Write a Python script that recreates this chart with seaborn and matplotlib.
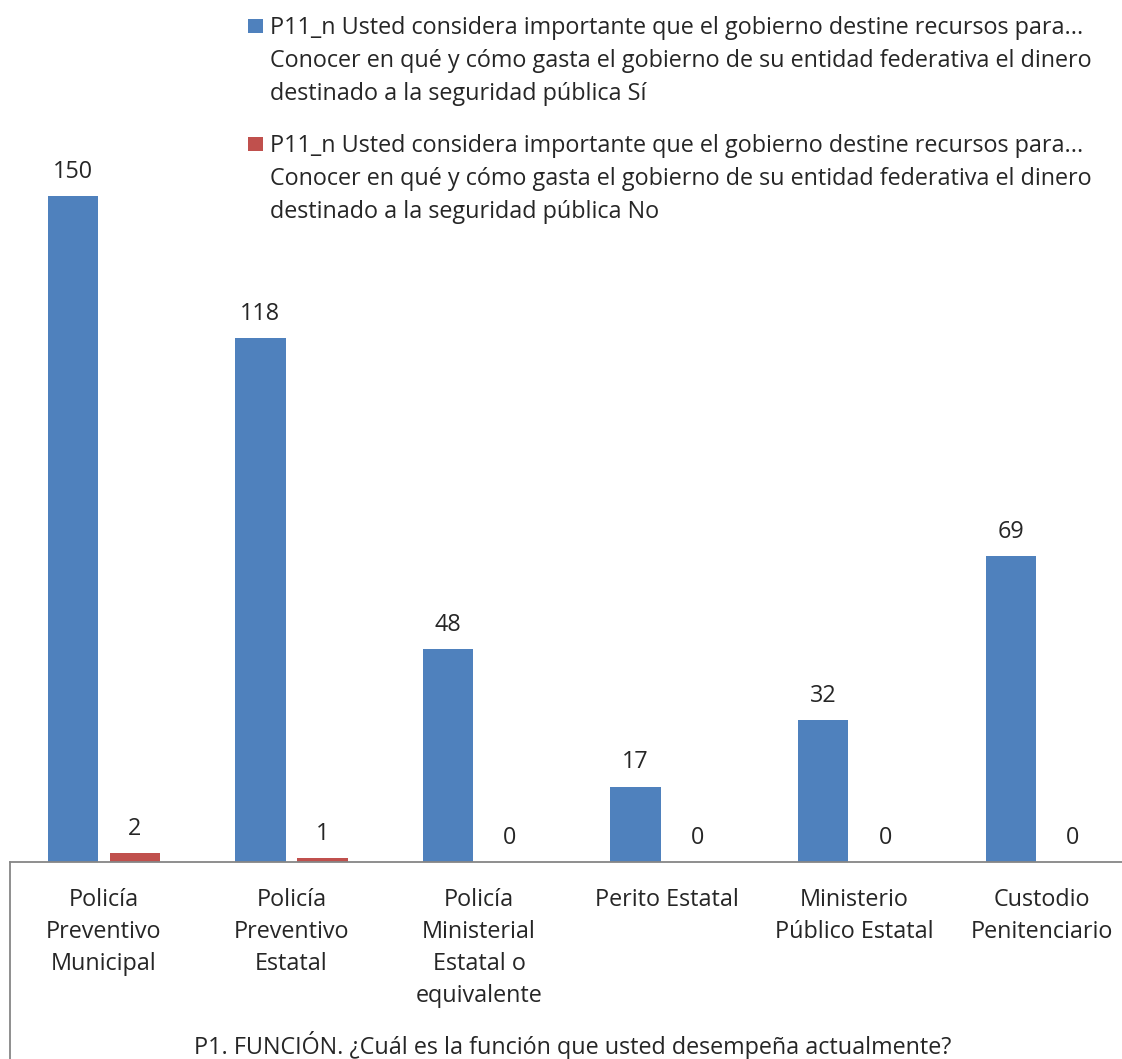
import matplotlib
matplotlib.use("Agg")
import matplotlib.pyplot as plt
from matplotlib.lines import Line2D
from matplotlib.patches import Rectangle
import seaborn as sns
import pandas as pd

sns.set_style("white")
plt.rcParams['font.family'] = ['Open Sans', 'DejaVu Sans']

categorias = [
    "Policía\nPreventivo\nMunicipal",
    "Policía\nPreventivo\nEstatal",
    "Policía\nMinisterial\nEstatal o\nequivalente",
    "Perito Estatal",
    "Ministerio\nPúblico Estatal",
    "Custodio\nPenitenciario",
]
serie_si = [150, 118, 48, 17, 32, 69]
serie_no = [2, 1, 0, 0, 0, 0]
nombres_series = [
    "P11_n Usted considera importante que el gobierno destine recursos para...\n"
    "Conocer en qué y cómo gasta el gobierno de su entidad federativa el dinero\n"
    "destinado a la seguridad pública Sí",
    "P11_n Usted considera importante que el gobierno destine recursos para...\n"
    "Conocer en qué y cómo gasta el gobierno de su entidad federativa el dinero\n"
    "destinado a la seguridad pública No",
]
titulo_x = "P1. FUNCIÓN. ¿Cuál es la función que usted desempeña actualmente?"
colores = ["#4F81BD", "#C0504D"]
gris = "#868686"

df = pd.DataFrame({
    "categoria": categorias * 2,
    "serie": [nombres_series[0]] * len(categorias) + [nombres_series[1]] * len(categorias),
    "valor": serie_si + serie_no,
})

W, H = 1122, 1059
fig = plt.figure(figsize=(W / 100, H / 100), dpi=100)
ax_left, ax_right = 10, 1135.6
ax_bottom, ax_top = 862, 151.6
ax = fig.add_axes([ax_left / W, (H - ax_bottom) / H, (ax_right - ax_left) / W, (ax_bottom - ax_top) / H])

sns.barplot(data=df, x="categoria", y="valor", hue="serie", order=categorias,
            hue_order=nombres_series, palette=colores, width=0.661, gap=0.19,
            linewidth=0, saturation=1, legend=False, ax=ax)

fs = 16.8
ax.set_xlim(-0.5, 5.5)
ax.set_ylim(0, 160)
ax.set_yticks([])
ax.set_ylabel("")
ax.set_xlabel("")
for s in ["top", "right", "left"]:
    ax.spines[s].set_visible(False)
ax.spines["bottom"].set_color(gris)
ax.spines["bottom"].set_linewidth(1.3)
ax.tick_params(axis="x", length=0, pad=19, labelsize=fs)
for lab in ax.get_xticklabels():
    lab.set_linespacing(1.43)

for cont in ax.containers:
    for rect in cont:
        h = rect.get_height()
        ax.annotate(f"{h:.0f}", (rect.get_x() + rect.get_width() / 2, h),
                    xytext=(0, 13), textcoords="offset points",
                    ha="center", va="baseline", fontsize=fs)

# left border of category area
fig.add_artist(Line2D([ax_left / W] * 2, [0, (H - ax_bottom) / H], color=gris, lw=1.3))

fig.text(573 / W, (H - 1054) / H, titulo_x, ha="center", va="baseline", fontsize=fs)

# legend
entry_baselines = [34, 152]
for i, (nombre, col) in enumerate(zip(nombres_series, colores)):
    b0 = entry_baselines[i]
    fig.add_artist(Rectangle((248 / W, (H - b0 + 1) / H), 15 / W, 14 / H,
                             transform=fig.transFigure, color=col, lw=0))
    for j, linea in enumerate(nombre.split("\n")):
        fig.text(270 / W, (H - (b0 + 33 * j)) / H, linea, ha="left", va="baseline", fontsize=fs)

fig.savefig("out.png", dpi=100)
